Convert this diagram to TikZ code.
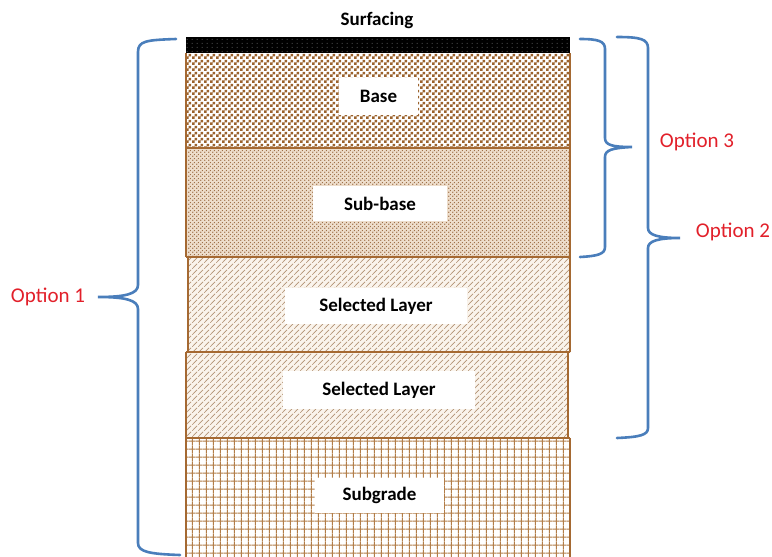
\documentclass[tikz,border=0pt]{standalone}
\usepackage{fontspec}
\setmainfont{Carlito}
\usetikzlibrary{patterns}
\definecolor{edgebrown}{RGB}{165,105,50}
\definecolor{checkbrown}{RGB}{155,98,44}
\definecolor{stipbrown}{RGB}{150,100,58}
\definecolor{stipback}{RGB}{238,222,204}
\definecolor{waveback}{RGB}{250,244,236}
\definecolor{wavebrown}{RGB}{178,146,116}
\definecolor{gridbrown}{RGB}{178,125,72}
\definecolor{surfdot}{RGB}{120,120,120}
\definecolor{braceblue}{RGB}{74,126,187}
\definecolor{optred}{RGB}{226,32,42}

\pgfdeclarepatternformonly{mychecks}{\pgfpointorigin}{\pgfqpoint{6pt}{6pt}}{\pgfqpoint{6pt}{6pt}}{%
  \pgfpathrectangle{\pgfpointorigin}{\pgfqpoint{3pt}{3pt}}%
  \pgfpathrectangle{\pgfqpoint{3pt}{3pt}}{\pgfqpoint{3pt}{3pt}}%
  \pgfusepath{fill}}
\pgfdeclarepatternformonly{mystipple}{\pgfpointorigin}{\pgfqpoint{4pt}{4pt}}{\pgfqpoint{4pt}{4pt}}{%
  \pgfpathcircle{\pgfqpoint{1pt}{1pt}}{0.9pt}%
  \pgfpathcircle{\pgfqpoint{3pt}{3pt}}{0.8pt}%
  \pgfusepath{fill}}
\pgfdeclarepatternformonly{mywaves}{\pgfpointorigin}{\pgfqpoint{6pt}{6pt}}{\pgfqpoint{6pt}{6pt}}{%
  \pgfsetlinewidth{0.8pt}%
  \pgfpathmoveto{\pgfqpoint{0pt}{0pt}}%
  \pgfpathcurveto{\pgfqpoint{3pt}{0pt}}{\pgfqpoint{0pt}{3pt}}{\pgfqpoint{3pt}{3pt}}%
  \pgfpathcurveto{\pgfqpoint{6pt}{3pt}}{\pgfqpoint{3pt}{6pt}}{\pgfqpoint{6pt}{6pt}}%
  \pgfusepath{stroke}}
\pgfdeclarepatternformonly{mygrid}{\pgfpointorigin}{\pgfqpoint{7.3pt}{7.8pt}}{\pgfqpoint{7.3pt}{7.8pt}}{%
  \pgfsetlinewidth{1.1pt}%
  \pgfpathmoveto{\pgfqpoint{3.65pt}{0pt}}\pgfpathlineto{\pgfqpoint{3.65pt}{7.8pt}}%
  \pgfpathmoveto{\pgfqpoint{0pt}{3.9pt}}\pgfpathlineto{\pgfqpoint{7.3pt}{3.9pt}}%
  \pgfusepath{stroke}}
\pgfdeclarepatternformonly{mysurfdots}{\pgfpointorigin}{\pgfqpoint{5pt}{4pt}}{\pgfqpoint{5pt}{4pt}}{%
  \pgfpathcircle{\pgfqpoint{2.5pt}{2pt}}{0.6pt}%
  \pgfusepath{fill}}

\begin{document}
\begin{tikzpicture}[x=1pt,y=-1pt,
  lbl/.style={fill=white, inner sep=0pt, font=\bfseries\fontsize{19}{21}\selectfont},
  opt/.style={text=optred, inner sep=0pt, font=\fontsize{21}{24}\selectfont},
  bracepen/.style={draw=braceblue, line width=2.6pt, line cap=round},
  sideedge/.style={draw=edgebrown, line width=1.3pt},
  layeredge/.style={draw=edgebrown, line width=2.5pt}]
\useasboundingbox (0,0) rectangle (772,557);
\fill[white] (0,0) rectangle (772,557);

% layers
\fill[black] (186,37) rectangle (570,53);
\fill[pattern=mysurfdots, pattern color=surfdot] (186,37) rectangle (570,53);

\fill[white] (186,53) rectangle (570,148);
\fill[pattern=mychecks, pattern color=checkbrown] (186,53) rectangle (570,148);

\fill[stipback] (186,148) rectangle (570,257);
\fill[pattern=mystipple, pattern color=stipbrown] (186,148) rectangle (570,257);

\fill[waveback] (188,257) rectangle (570,352);
\fill[pattern=mywaves, pattern color=wavebrown] (188,257) rectangle (570,352);

\fill[waveback] (186,352) rectangle (568,438);
\fill[pattern=mywaves, pattern color=wavebrown] (186,352) rectangle (568,438);

\fill[white] (186,438) rectangle (570,558);
\fill[pattern=mygrid, pattern color=gridbrown] (186,438) rectangle (570,558);

% edges
\draw[sideedge] (186,53) -- (186,257);
\draw[sideedge] (570,53) -- (570,257);
\draw[sideedge] (188,257) -- (188,352);
\draw[sideedge] (570,257) -- (570,352);
\draw[sideedge] (186,352) -- (186,438);
\draw[sideedge] (568,352) -- (568,438);
\draw[sideedge] (186,438) -- (186,558);
\draw[sideedge] (570,438) -- (570,558);
\draw[layeredge] (186,148) -- (570,148);
\draw[layeredge] (186,257) -- (570,257);
\draw[layeredge] (186,352) -- (570,352);
\draw[layeredge] (186,438) -- (570,438);

% labels
\node[font=\bfseries\fontsize{19}{21}\selectfont, inner sep=0pt] (surf) at (377,20) {Surfacing};
\node[lbl, minimum width=79pt, minimum height=37pt] (base) at (378.5,96.5) {Base};
\node[lbl, minimum width=134pt, minimum height=35pt] (subbase) at (380,203.5) {Sub-base};
\node[lbl, minimum width=182pt, minimum height=36pt] (sel1) at (376,306) {Selected Layer};
\node[lbl, minimum width=192pt, minimum height=38pt] (sel2) at (379,390) {Selected Layer};
\node[lbl, minimum width=129pt, minimum height=35pt] (subgrade) at (379.5,495.5) {Subgrade};

% braces
\coordinate (b1top) at (176,39);
\coordinate (b1tip) at (98,297);
\coordinate (b1bot) at (180,555);
\draw[bracepen] (b1top) .. controls (146,40) and (138,41) .. (138,52) -- (138,285)
  .. controls (138,294) and (125,297) .. (b1tip)
  .. controls (125,297) and (138,300) .. (138,309) -- (138,543)
  .. controls (138,552) and (150,554) .. (b1bot);

\coordinate (b3top) at (580,39);
\coordinate (b3tip) at (632,147);
\coordinate (b3bot) at (580,257);
\draw[bracepen] (b3top) .. controls (598,39) and (605,41) .. (605,49) -- (605,138)
  .. controls (605,145) and (612,147) .. (b3tip)
  .. controls (612,148) and (605,150) .. (605,157) -- (605,247)
  .. controls (605,254) and (598,256) .. (b3bot);

\coordinate (b2top) at (617,37);
\coordinate (b2tip) at (680,238);
\coordinate (b2bot) at (617,438);
\draw[bracepen] (b2top) .. controls (640,37) and (648,39) .. (648,48) -- (648,228)
  .. controls (648,235) and (658,238) .. (b2tip)
  .. controls (658,238) and (648,241) .. (648,248) -- (648,428)
  .. controls (648,435) and (640,437) .. (b2bot);

\node[opt] (opt1) at (48,297) {Option 1};
\node[opt] (opt3) at (697,142) {Option 3};
\node[opt] (opt2) at (733,232) {Option 2};
\end{tikzpicture}
\end{document}
